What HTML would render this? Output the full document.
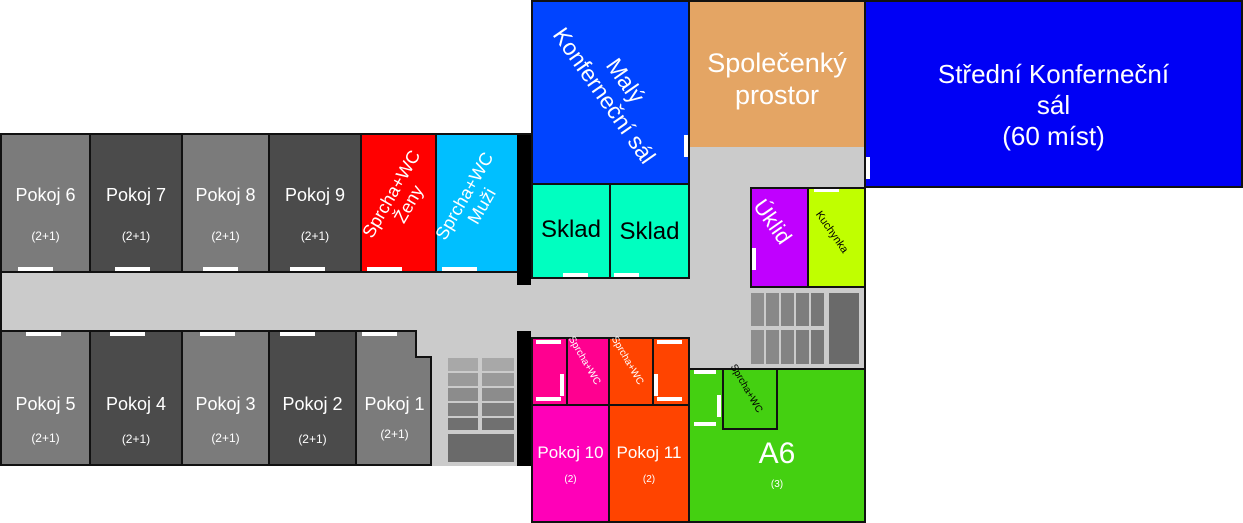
<!DOCTYPE html>
<html><head><meta charset="utf-8"><style>
body{margin:0;width:1243px;height:523px;background:#fff;position:relative;overflow:hidden;font-family:"Liberation Sans",sans-serif}
.r{position:absolute;box-sizing:border-box;border:2px solid #111;color:#fff;text-align:center}
.a{position:absolute}
.d{position:absolute;background:#fff}
.t{position:absolute;white-space:nowrap;color:#fff;transform-origin:center}
.lt{background:#7b7b7b}.dk{background:#4b4b4b}
.n{position:absolute;left:0;right:0;font-size:18px}
.s{position:absolute;left:0;right:0;font-size:12px}
</style></head><body>
<!-- corridors -->
<div class="a" style="left:0;top:270px;width:535px;height:62px;background:#cbcbcb;border-left:2px solid #111;box-sizing:border-box"></div>
<div class="a" style="left:531px;top:143px;width:335px;height:228px;background:#cbcbcb;border-right:2px solid #111;box-sizing:border-box"></div>
<div class="a" style="left:415px;top:330px;width:102px;height:30px;background:#cbcbcb"></div>
<div class="a" style="left:0;top:133px;width:531px;height:2px;background:#111"></div>
<div class="a" style="left:0;top:464px;width:531px;height:2px;background:#111"></div>

<!-- top rooms -->
<div class="r lt" style="left:0;top:133px;width:91px;height:140px"><div class="n" style="top:50px">Pokoj 6</div><div class="s" style="top:94px">(2+1)</div></div>
<div class="r dk" style="left:89px;top:133px;width:94px;height:140px"><div class="n" style="top:50px">Pokoj 7</div><div class="s" style="top:94px">(2+1)</div></div>
<div class="r lt" style="left:181px;top:133px;width:89px;height:140px"><div class="n" style="top:50px">Pokoj 8</div><div class="s" style="top:94px">(2+1)</div></div>
<div class="r dk" style="left:268px;top:133px;width:94px;height:140px"><div class="n" style="top:50px">Pokoj 9</div><div class="s" style="top:94px">(2+1)</div></div>
<div class="r" style="left:360px;top:133px;width:77px;height:140px;background:#f00"></div>
<div class="r" style="left:435px;top:133px;width:84px;height:140px;background:#00bfff"></div>
<div class="t" style="left:340px;top:179px;width:120px;font-size:18px;line-height:20px;transform:rotate(-60deg);text-align:center">Sprcha+WC<br>Ženy</div>
<div class="t" style="left:413px;top:181px;width:120px;font-size:18px;line-height:20px;transform:rotate(-60deg);text-align:center">Sprcha+WC<br>Muži</div>
<div class="d" style="left:18px;top:267px;width:35px;height:4px"></div>
<div class="d" style="left:115px;top:267px;width:35px;height:4px"></div>
<div class="d" style="left:203px;top:267px;width:35px;height:4px"></div>
<div class="d" style="left:290px;top:267px;width:35px;height:4px"></div>
<div class="d" style="left:367px;top:267px;width:35px;height:4px"></div>
<div class="d" style="left:442px;top:267px;width:35px;height:4px"></div>
<div class="a" style="left:517px;top:135px;width:14px;height:150px;background:#000"></div>

<!-- bottom rooms -->
<div class="r lt" style="left:0;top:330px;width:91px;height:136px"><div class="n" style="top:62px">Pokoj 5</div><div class="s" style="top:99px">(2+1)</div></div>
<div class="r dk" style="left:89px;top:330px;width:94px;height:136px"><div class="n" style="top:62px">Pokoj 4</div><div class="s" style="top:100px">(2+1)</div></div>
<div class="r lt" style="left:181px;top:330px;width:89px;height:136px"><div class="n" style="top:62px">Pokoj 3</div><div class="s" style="top:99px">(2+1)</div></div>
<div class="r dk" style="left:268px;top:330px;width:89px;height:136px"><div class="n" style="top:62px">Pokoj 2</div><div class="s" style="top:100px">(2+1)</div></div>
<div class="r lt" style="left:355px;top:330px;width:77px;height:136px;border-right:none"><div class="n" style="top:62px">Pokoj 1</div><div class="s" style="top:95px">(2+1)</div></div>
<div class="a" style="left:415px;top:330px;width:17px;height:28px;background:#cbcbcb;border-left:2px solid #111;border-bottom:2px solid #111;box-sizing:border-box"></div>
<div class="a" style="left:430px;top:356px;width:2px;height:110px;background:#111"></div>
<div class="d" style="left:26px;top:332px;width:35px;height:4px"></div>
<div class="d" style="left:110px;top:332px;width:35px;height:4px"></div>
<div class="d" style="left:200px;top:332px;width:35px;height:4px"></div>
<div class="d" style="left:280px;top:332px;width:35px;height:4px"></div>
<div class="d" style="left:362px;top:332px;width:35px;height:4px"></div>
<!-- stairs left -->
<div class="a" style="left:432px;top:358px;width:85px;height:108px;background:#cbcbcb"></div>
<div class="a" style="left:448px;top:358px;width:30px;height:13px;background:#a8a8a8"></div><div class="a" style="left:482px;top:358px;width:32px;height:13px;background:#a8a8a8"></div>
<div class="a" style="left:448px;top:373px;width:30px;height:13px;background:#9a9a9a"></div><div class="a" style="left:482px;top:373px;width:32px;height:13px;background:#9a9a9a"></div>
<div class="a" style="left:448px;top:388px;width:30px;height:13px;background:#8c8c8c"></div><div class="a" style="left:482px;top:388px;width:32px;height:13px;background:#8c8c8c"></div>
<div class="a" style="left:448px;top:403px;width:30px;height:13px;background:#7e7e7e"></div><div class="a" style="left:482px;top:403px;width:32px;height:13px;background:#7e7e7e"></div>
<div class="a" style="left:448px;top:418px;width:30px;height:12px;background:#707070"></div><div class="a" style="left:482px;top:418px;width:32px;height:12px;background:#707070"></div>
<div class="a" style="left:448px;top:434px;width:66px;height:28px;background:#6a6a6a"></div>
<div class="a" style="left:517px;top:331px;width:14px;height:135px;background:#000"></div>

<!-- upper right -->
<div class="r" style="left:531px;top:0;width:159px;height:185px;background:#0044ff"></div>
<div class="t" style="left:510px;top:62px;width:210px;font-size:23px;line-height:26px;transform:rotate(55deg);text-align:center">Malý<br>Konferneční sál</div>
<div class="d" style="left:684px;top:135px;width:4px;height:22px"></div>
<div class="r" style="left:688px;top:0;width:178px;height:147px;background:#e4a564;border-bottom:none"><div class="n" style="top:45px;font-size:27px;line-height:32px">Společenký<br>prostor</div></div>
<div class="r" style="left:864px;top:0;width:379px;height:188px;background:#0000f5"><div class="n" style="top:57px;font-size:26px;line-height:31px">Střední Konferneční<br>sál<br>(60 míst)</div></div>
<div class="d" style="left:866px;top:157px;width:4px;height:22px"></div>
<div class="r" style="left:531px;top:183px;width:80px;height:96px;background:#00ffc0;color:#000"><div class="n" style="top:31px;font-size:24px">Sklad</div></div>
<div class="r" style="left:609px;top:183px;width:81px;height:96px;background:#00ffc0;color:#000"><div class="n" style="top:33px;font-size:24px">Sklad</div></div>
<div class="d" style="left:563px;top:273px;width:25px;height:4px"></div>
<div class="d" style="left:614px;top:273px;width:25px;height:4px"></div>
<div class="r" style="left:750px;top:187px;width:59px;height:101px;background:#c000ff"></div>
<div class="t" style="left:742px;top:220px;width:76px;font-size:22px;transform:rotate(55deg)">Úklid</div>
<div class="d" style="left:752px;top:248px;width:4px;height:22px"></div>
<div class="r" style="left:807px;top:187px;width:59px;height:101px;background:#c0ff00"></div>
<div class="t" style="left:805px;top:231px;width:60px;font-size:11px;color:#000;transform:rotate(55deg)">Kuchynka</div>
<div class="d" style="left:814px;top:189px;width:25px;height:3px"></div>
<!-- stairs right -->
<div class="a" style="left:751px;top:293px;width:13px;height:33px;background:#8e8e8e"></div><div class="a" style="left:766px;top:293px;width:13px;height:33px;background:#888"></div><div class="a" style="left:781px;top:293px;width:13px;height:33px;background:#838383"></div><div class="a" style="left:796px;top:293px;width:13px;height:33px;background:#7d7d7d"></div><div class="a" style="left:811px;top:293px;width:13px;height:33px;background:#777"></div>
<div class="a" style="left:751px;top:330px;width:13px;height:34px;background:#8e8e8e"></div><div class="a" style="left:766px;top:330px;width:13px;height:34px;background:#888"></div><div class="a" style="left:781px;top:330px;width:13px;height:34px;background:#838383"></div><div class="a" style="left:796px;top:330px;width:13px;height:34px;background:#7d7d7d"></div><div class="a" style="left:811px;top:330px;width:13px;height:34px;background:#777"></div>
<div class="a" style="left:829px;top:293px;width:30px;height:71px;background:#6a6a6a"></div>

<!-- lower right -->
<div class="r" style="left:531px;top:337px;width:37px;height:69px;background:#ff0090"></div>
<div class="r" style="left:566px;top:337px;width:44px;height:69px;background:#ff0090"></div>
<div class="t" style="left:553px;top:362px;width:70px;font-size:10px;transform:rotate(60deg)">Sprcha+WC</div>
<div class="r" style="left:608px;top:337px;width:46px;height:69px;background:#ff4400"></div>
<div class="t" style="left:596px;top:362px;width:70px;font-size:10px;transform:rotate(60deg)">Sprcha+WC</div>
<div class="r" style="left:652px;top:337px;width:38px;height:69px;background:#ff4400"></div>
<div class="d" style="left:536px;top:340px;width:25px;height:4px"></div><div class="d" style="left:536px;top:397px;width:25px;height:4px"></div><div class="d" style="left:560px;top:374px;width:4px;height:22px"></div>
<div class="d" style="left:657px;top:340px;width:25px;height:4px"></div><div class="d" style="left:657px;top:397px;width:25px;height:4px"></div><div class="d" style="left:654px;top:374px;width:4px;height:22px"></div>
<div class="r" style="left:531px;top:404px;width:79px;height:119px;background:#ff00b8"><div class="n" style="top:37px;font-size:17px">Pokoj 10</div><div class="s" style="top:68px;font-size:10px">(2)</div></div>
<div class="r" style="left:608px;top:404px;width:82px;height:119px;background:#ff4400"><div class="n" style="top:37px;font-size:17px">Pokoj 11</div><div class="s" style="top:68px;font-size:10px">(2)</div></div>
<div class="r" style="left:688px;top:368px;width:178px;height:155px;background:#44d011"><div class="n" style="top:67px;font-size:30px">A6</div><div class="s" style="top:109px;font-size:10px">(3)</div></div>
<div class="r" style="left:722px;top:368px;width:56px;height:62px;background:#44d011"></div>
<div class="t" style="left:715px;top:390px;width:70px;font-size:10px;color:#000;transform:rotate(60deg)">Sprcha+WC</div>
<div class="d" style="left:694px;top:370px;width:22px;height:4px"></div><div class="d" style="left:694px;top:422px;width:22px;height:4px"></div><div class="d" style="left:717px;top:395px;width:4px;height:22px"></div>
</body></html>
